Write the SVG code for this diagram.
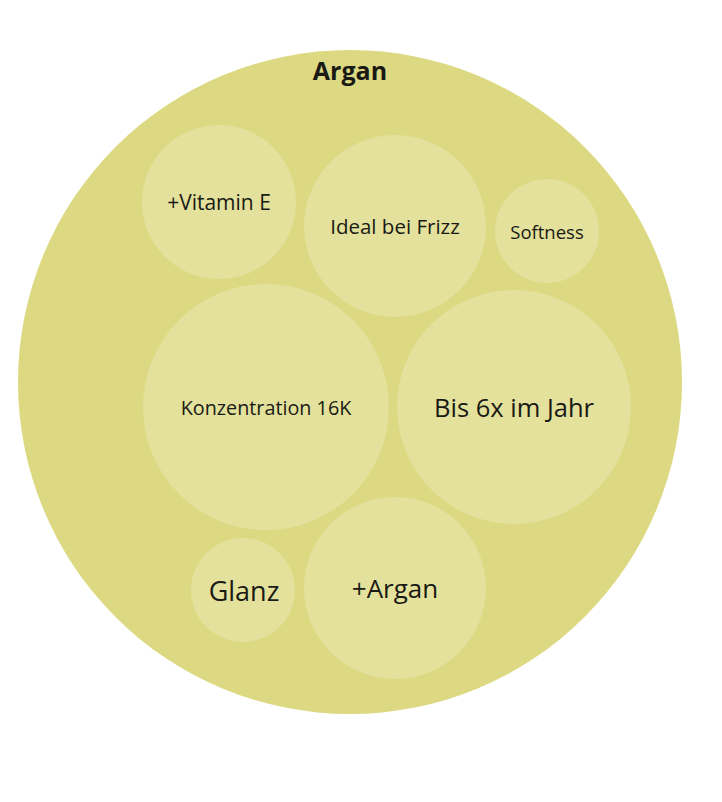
<svg xmlns="http://www.w3.org/2000/svg" width="722" height="802" viewBox="0 0 722 802">
<style>
.outer{fill:#dcd982}
.inner{fill:#e3e19c}
text{font-family:"Open Sans","Noto Sans","Liberation Sans",sans-serif;fill:#1a1a14;text-anchor:middle;dominant-baseline:central;font-weight:500}
text.title{font-weight:bold}
</style>
<rect width="722" height="802" fill="#ffffff"/>
<g id="argan">
<circle class="outer" cx="350" cy="382" r="332"/>
<text class="title" x="350" y="70" font-size="25">Argan</text>
</g>
<g id="vitamin-e">
<circle class="inner" cx="219" cy="202" r="77"/>
<text x="219" y="202" font-size="21">+Vitamin E</text>
</g>
<g id="ideal-bei-frizz">
<circle class="inner" cx="395" cy="226" r="91"/>
<text x="395" y="226" font-size="20.5">Ideal bei Frizz</text>
</g>
<g id="softness">
<circle class="inner" cx="547" cy="231" r="52"/>
<text x="547" y="231" font-size="18.5">Softness</text>
</g>
<g id="konzentration">
<circle class="inner" cx="266" cy="407" r="123"/>
<text x="266" y="407" font-size="19.8">Konzentration 16K</text>
</g>
<g id="bis-6x">
<circle class="inner" cx="514" cy="407" r="117"/>
<text x="514" y="407" font-size="25.5">Bis 6x im Jahr</text>
</g>
<g id="glanz">
<circle class="inner" cx="243" cy="590" r="52"/>
<text x="244" y="590" font-size="27">Glanz</text>
</g>
<g id="plus-argan">
<circle class="inner" cx="395" cy="588" r="91"/>
<text x="395" y="588" font-size="26">+Argan</text>
</g>
<g id="connectors"/>
</svg>
